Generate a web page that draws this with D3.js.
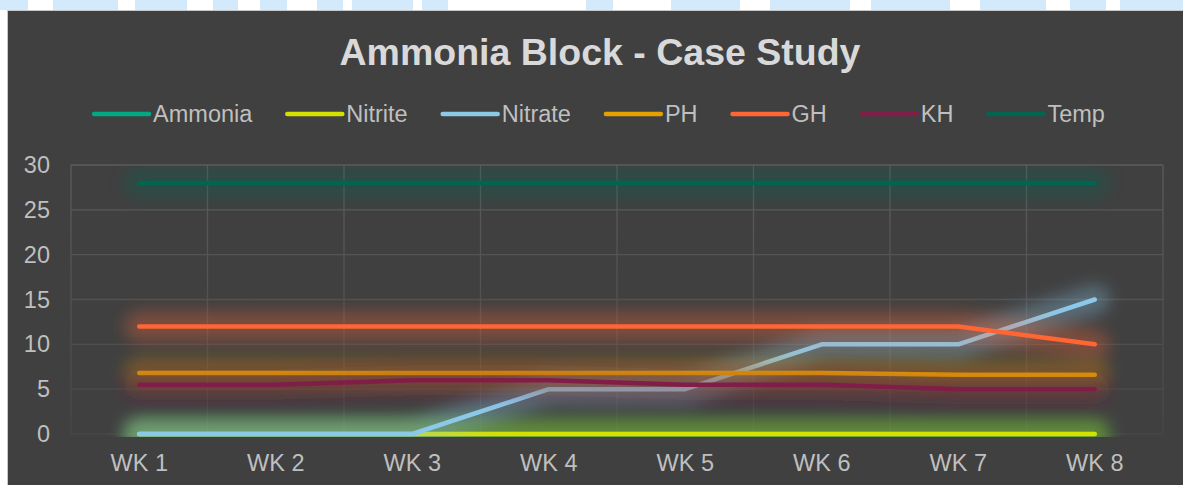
<!DOCTYPE html>
<html>
<head>
<meta charset="utf-8">
<script src="https://cdn.jsdelivr.net/npm/d3@7/dist/d3.min.js"></script>
<style>
  body { margin: 0; background: #ffffff; }
  svg { display: block; font-family: "Liberation Sans", Arial, sans-serif; }
</style>
</head>
<body>
<svg id="chart" width="1183" height="485"></svg>
<script>
// data
const weeks = ["WK 1", "WK 2", "WK 3", "WK 4", "WK 5", "WK 6", "WK 7", "WK 8"];
const ammonia = [0, 0, 0, 0, 0, 0, 0, 0];
const nitrite = [0, 0, 0, 0, 0, 0, 0, 0];
const nitrate = [0, 0, 0, 5, 5, 10, 10, 15];
const ph = [6.8, 6.8, 6.8, 6.8, 6.8, 6.8, 6.6, 6.6];
const gh = [12, 12, 12, 12, 12, 12, 12, 10];
const kh = [5.5, 5.5, 6, 6, 5.5, 5.5, 5, 5];
const temp = [28, 28, 28, 28, 28, 28, 28, 28];
const yTicks = [0, 5, 10, 15, 20, 25, 30];

const seriesNames = ["Ammonia", "Nitrite", "Nitrate", "PH", "GH", "KH", "Temp"];
const seriesValues = [ammonia, nitrite, nitrate, ph, gh, kh, temp];
const seriesColors = ["#00a884", "#d4e000", "#8cc8e8", "#e6a000", "#ff6633", "#801e48", "#006650"];

// bits of the page watermark that peek out above the chart box
const watermarkBits = [[0, 28], [53, 118], [135, 187], [213, 238], [260, 287], [317, 343],
    [352, 413], [422, 448], [586, 613], [671, 740], [770, 850], [871, 950], [980, 1046], [1070, 1106], [1120, 1183]];

const svg = d3.select("#chart");
const W = 1183, H = 485;

svg.append("g").selectAll("rect")
    .data(watermarkBits)
    .enter().append("rect")
    .attr("x", (d) => d[0]).attr("y", 0)
    .attr("width", (d) => d[1] - d[0]).attr("height", 10)
    .attr("fill", "#d3e9fc");

// chart box
svg.append("rect")
    .attr("x", 7.5).attr("y", 10.5)
    .attr("width", W).attr("height", H)
    .attr("fill", "#404040")
    .attr("stroke", "#c8c8c8");

const plot = { left: 71, right: 1163, top: 165, bottom: 434 };

const x = d3.scaleBand().domain(weeks).range([plot.left, plot.right]);
const y = d3.scaleLinear().domain([0, 30]).range([plot.bottom, plot.top]);
const cx = (d) => x(d) + x.bandwidth() / 2;

const defs = svg.append("defs");
const grad = defs.append("linearGradient")
    .attr("id", "gridFade")
    .attr("gradientUnits", "userSpaceOnUse")
    .attr("x1", 0).attr("y1", plot.top).attr("x2", 0).attr("y2", plot.bottom);
grad.append("stop").attr("offset", 0).attr("stop-color", "#5c5c5c");
grad.append("stop").attr("offset", 1).attr("stop-color", "#474747");

defs.append("filter")
    .attr("id", "glow")
    .attr("filterUnits", "userSpaceOnUse")
    .attr("x", 0).attr("y", 0).attr("width", W).attr("height", H)
    .append("feGaussianBlur").attr("stdDeviation", 8);

defs.append("clipPath").attr("id", "plotClip")
    .append("rect")
    .attr("x", plot.left - 40).attr("y", plot.top)
    .attr("width", plot.right - plot.left + 80).attr("height", plot.bottom - plot.top + 3);

// title
svg.append("text")
    .attr("x", 600).attr("y", 65)
    .attr("text-anchor", "middle")
    .attr("font-size", 37.5).attr("font-weight", "bold")
    .attr("fill", "#d9d9d9")
    .text("Ammonia Block - Case Study");

// gridlines
const grid = svg.append("g").attr("stroke", "url(#gridFade)").attr("stroke-width", 1.3);
grid.selectAll("line.h")
    .data(yTicks)
    .enter().append("line")
    .attr("class", "h")
    .attr("x1", plot.left).attr("x2", plot.right)
    .attr("y1", (d) => y(d)).attr("y2", (d) => y(d));
grid.selectAll("line.v")
    .data(weeks.map((d) => x(d)).concat([plot.right]))
    .enter().append("line")
    .attr("class", "v")
    .attr("x1", (d) => d).attr("x2", (d) => d)
    .attr("y1", plot.top).attr("y2", plot.bottom);

// axes
const yAxis = svg.append("g")
    .attr("transform", "translate(" + plot.left + ",0)")
    .call(d3.axisLeft(y).tickValues(yTicks).tickSize(0).tickPadding(21));
yAxis.select(".domain").remove();
yAxis.selectAll("text")
    .attr("font-size", 23.5).attr("fill", "#bfbfbf")
    .attr("font-family", "Liberation Sans, Arial, sans-serif");

const xAxis = svg.append("g")
    .attr("transform", "translate(0," + plot.bottom + ")")
    .call(d3.axisBottom(x).tickSize(0));
xAxis.select(".domain").remove();
xAxis.selectAll("text")
    .attr("y", 37).attr("dy", 0)
    .attr("font-size", 23.5).attr("fill", "#bfbfbf")
    .attr("font-family", "Liberation Sans, Arial, sans-serif");

// lines, each with a soft glow
const line = d3.line()
    .x((d, i) => cx(weeks[i]))
    .y((d) => y(d));

const lines = svg.append("g").attr("clip-path", "url(#plotClip)");
seriesValues.forEach((vals, k) => {
    lines.append("path")
        .attr("d", line(vals))
        .attr("fill", "none")
        .attr("stroke", seriesColors[k])
        .attr("stroke-width", 30)
        .attr("stroke-opacity", 0.32)
        .attr("stroke-linecap", "round")
        .attr("stroke-linejoin", "round")
        .attr("filter", "url(#glow)");
    lines.append("path")
        .attr("d", line(vals))
        .attr("fill", "none")
        .attr("stroke", seriesColors[k])
        .attr("stroke-width", 4.5)
        .attr("stroke-linecap", "round")
        .attr("stroke-linejoin", "round");
});

// legend
const legend = svg.append("g");
const items = seriesNames.map((name, k) => {
    const g = legend.append("g");
    g.append("line")
        .attr("x1", 0).attr("x2", 55)
        .attr("y1", 114).attr("y2", 114)
        .attr("stroke", seriesColors[k])
        .attr("stroke-width", 4.5)
        .attr("stroke-linecap", "round");
    const t = g.append("text")
        .attr("x", 59).attr("y", 122)
        .attr("font-size", 23.5).attr("fill", "#bfbfbf")
        .text(name);
    return { g: g, w: 59 + t.node().getComputedTextLength() };
});
const gap = 35;
const total = d3.sum(items, (d) => d.w) + gap * (items.length - 1);
let pos = 599.5 - total / 2;
items.forEach((it) => {
    it.g.attr("transform", "translate(" + pos + ",0)");
    pos += it.w + gap;
});
</script>
</body>
</html>
